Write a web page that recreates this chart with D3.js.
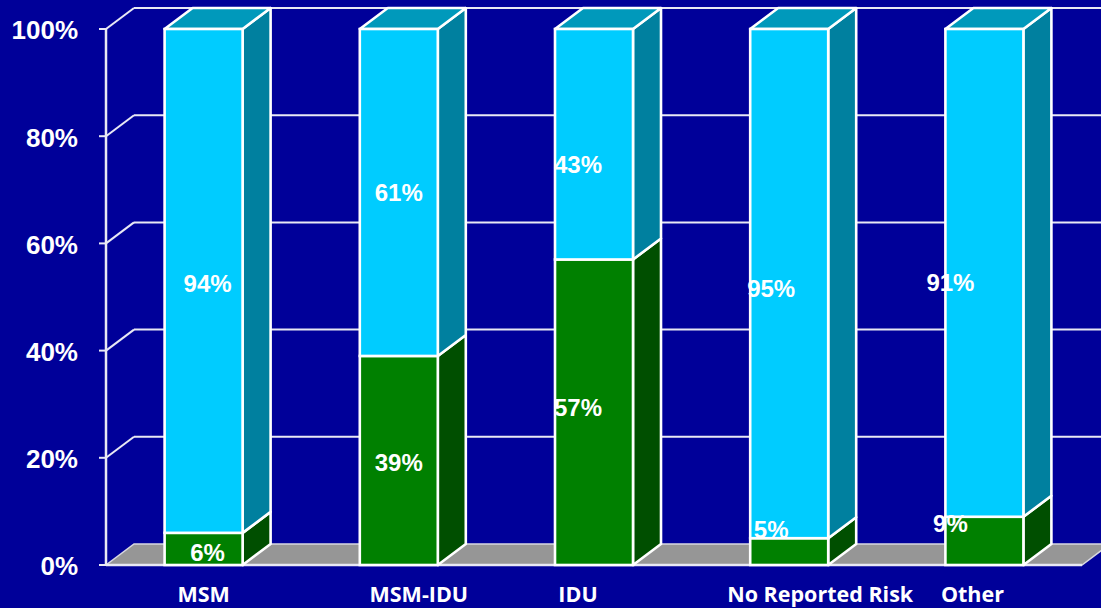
<!DOCTYPE html>
<html>
<head>
<meta charset="utf-8">
<script src="https://cdn.jsdelivr.net/npm/d3@7"></script>
<style>
  html, body { margin: 0; padding: 0; background: #000099; }
  svg { display: block; }
</style>
</head>
<body>
<svg id="chart" width="1101" height="608"></svg>
<script>
// ---- data ----
const categories = ["MSM", "MSM-IDU", "IDU", "No Reported Risk", "Other"];
const greenValues = [6, 39, 57, 5, 9];      // bottom segment (%)
const cyanValues  = [94, 61, 43, 95, 91];   // top segment (%)
const yTicks = [0, 20, 40, 60, 80, 100];

// ---- layout (manual label nudges, as in the original slide) ----
const catLabelDx   = [0, 20, -16, 31, -12];
const valueLabelDx = [4, 0, -16, -18, -34];
const cyanLabelDy  = [2, 0, 20, 5, 9];
const greenLabelDy = [3, 2, -5, -22, -18];

const W = 1101, H = 608;
const svg = d3.select("#chart");
const dx = 28, dy = -21;
const x0 = 106, x1 = 1082, yBottom = 565, yTop = 29;

const x = d3.scaleBand().domain(categories).range([x0, x1]).padding(0);
const y = d3.scaleLinear().domain([0, 100]).range([yBottom, yTop]);
const barW = 78;

svg.append("rect").attr("width", W).attr("height", H).attr("fill", "#000099");

const gridColor = "#E8E8F4";
// back wall gridlines + left wall diagonals
const grid = svg.append("g");
yTicks.filter(t => t > 0).forEach(t => {
  grid.append("line")
    .attr("x1", x0 + dx).attr("x2", W + 5)
    .attr("y1", y(t) + dy).attr("y2", y(t) + dy)
    .attr("stroke", gridColor).attr("stroke-width", 2);
  grid.append("line")
    .attr("x1", x0).attr("y1", y(t))
    .attr("x2", x0 + dx).attr("y2", y(t) + dy)
    .attr("stroke", gridColor).attr("stroke-width", 2);
});

// floor
svg.append("path")
  .attr("d", `M${x0},${y(0)} L${x1},${y(0)} L${x1 + dx},${y(0) + dy} L${x0 + dx},${y(0) + dy} Z`)
  .attr("fill", "#969696")
  .attr("stroke", "#D8D8E0").attr("stroke-width", 1.5);

// axis line and ticks
svg.append("line").attr("x1", x0).attr("x2", x0).attr("y1", y(100)).attr("y2", y(0))
  .attr("stroke", gridColor).attr("stroke-width", 2.5);
svg.append("line").attr("x1", x0).attr("x2", x1).attr("y1", y(0)).attr("y2", y(0))
  .attr("stroke", gridColor).attr("stroke-width", 2.5);
yTicks.forEach(t => {
  svg.append("line").attr("x1", x0 - 7).attr("x2", x0).attr("y1", y(t)).attr("y2", y(t))
    .attr("stroke", gridColor).attr("stroke-width", 2);
  svg.append("text")
    .attr("x", 78).attr("y", y(t) + 1)
    .attr("dy", "0.36em")
    .attr("text-anchor", "end")
    .attr("fill", "#ffffff")
    .attr("font-family", "'Liberation Sans', Arial, sans-serif")
    .attr("font-weight", "bold")
    .attr("font-size", 26)
    .text(t + "%");
});

// bars
const stroke = "#ffffff", sw = 2.6;
function segment(g, cx, v0, v1, front, side, top) {
  const xl = cx - barW / 2, xr = cx + barW / 2;
  const yt = y(v1), yb = y(v0);
  g.append("path")
    .attr("d", `M${xr},${yt} L${xr + dx},${yt + dy} L${xr + dx},${yb + dy} L${xr},${yb} Z`)
    .attr("fill", side).attr("stroke", stroke).attr("stroke-width", sw).attr("stroke-linejoin", "round");
  if (top) {
    g.append("path")
      .attr("d", `M${xl},${yt} L${xr},${yt} L${xr + dx},${yt + dy} L${xl + dx},${yt + dy} Z`)
      .attr("fill", top).attr("stroke", stroke).attr("stroke-width", sw).attr("stroke-linejoin", "round");
  }
  g.append("rect")
    .attr("x", xl).attr("y", yt).attr("width", barW).attr("height", yb - yt)
    .attr("fill", front).attr("stroke", stroke).attr("stroke-width", sw);
}

const bars = svg.append("g");
categories.forEach((c, i) => {
  const cx = x(c) + x.bandwidth() / 2;
  const g = bars.append("g");
  const gv = greenValues[i];
  segment(g, cx, 0, gv, "#008000", "#004F00", null);
  segment(g, cx, gv, gv + cyanValues[i], "#00CCFF", "#00809F", "#0099BB");
});

// value labels
const labelFont = "'Liberation Sans', Arial, sans-serif";
categories.forEach((c, i) => {
  const cx = x(c) + x.bandwidth() / 2 + valueLabelDx[i];
  const gv = greenValues[i], cv = cyanValues[i];
  svg.append("text")
    .attr("x", cx).attr("y", y(gv + cv / 2) + cyanLabelDy[i]).attr("dy", "0.36em")
    .attr("text-anchor", "middle").attr("fill", "#fff")
    .attr("font-family", labelFont).attr("font-weight", "bold").attr("font-size", 24)
    .text(cv + "%");
  svg.append("text")
    .attr("x", cx).attr("y", y(gv / 2) + greenLabelDy[i]).attr("dy", "0.36em")
    .attr("text-anchor", "middle").attr("fill", "#fff")
    .attr("font-family", labelFont).attr("font-weight", "bold").attr("font-size", 24)
    .text(gv + "%");
});

// category labels
categories.forEach((c, i) => {
  svg.append("text")
    .attr("x", x(c) + x.bandwidth() / 2 + catLabelDx[i])
    .attr("y", 602)
    .attr("text-anchor", "middle").attr("fill", "#fff")
    .attr("font-family", "'Open Sans', 'Noto Sans', sans-serif")
    .attr("font-weight", "bold").attr("font-size", 21.5)
    .text(c);
});
</script>
</body>
</html>
